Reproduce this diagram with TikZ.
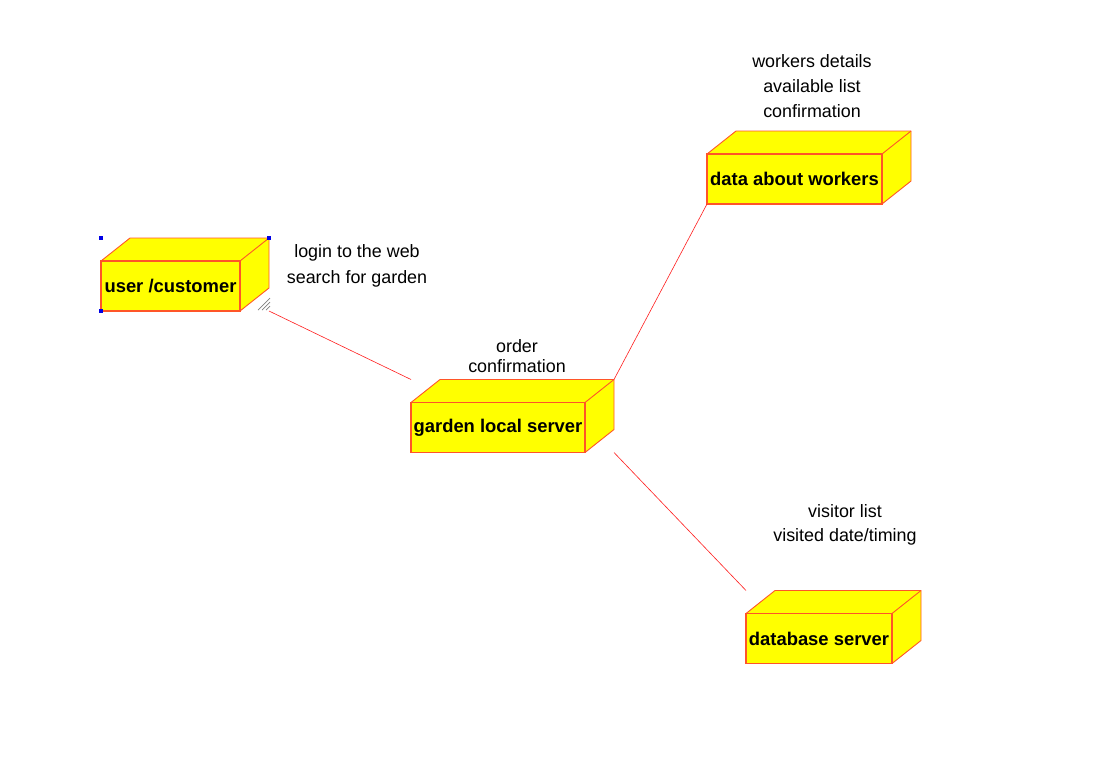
\documentclass[tikz,border=0pt]{standalone}
\usepackage{fontspec}
\setmainfont{Liberation Sans}
\usetikzlibrary{calc,positioning}

\definecolor{boxfill}{RGB}{255,255,0}
\definecolor{boxedge}{RGB}{255,85,40}
\definecolor{linkred}{RGB}{255,30,30}
\definecolor{handle}{RGB}{0,0,230}

\tikzset{
  nodebox/.style={draw=boxedge,line width=1.1pt,fill=boxfill,inner sep=0pt,outer sep=0pt,
    minimum height=50pt,font=\fontsize{18.4}{20}\selectfont\bfseries},
  boxside/.style={draw=boxedge,line width=0.9pt,fill=boxfill,line join=round},
  link/.style={draw=linkred,line width=0.6pt},
  note/.style={align=center,font=\fontsize{17.9}{25}\selectfont}
}

\begin{document}
\begin{tikzpicture}[x=1pt,y=-1pt]

% Rajzterület
\useasboundingbox[fill=white] (0,0) rectangle (1114,761);

% Csomópontok (elülső lap)
\node[nodebox,minimum width=139pt] (user) at (170.5,286) {user /customer};
\node[nodebox,minimum width=174pt] (garden) at (498,427.5) {garden local server};
\node[nodebox,minimum width=175pt] (workers) at (794.5,179) {data about workers};
\node[nodebox,minimum width=146pt] (db) at (819,638.5) {database server};

% Felső és oldalsó lap, sarokpontok
\foreach \nn in{user,garden,workers,db}{
\draw[boxside] (\nn.north west) -- ++(29,-23) -- ($(\nn.north east)+(29,-23)$) coordinate(\nn-tr)
  -- ($(\nn.south east)+(29,-23)$) -- (\nn.south east) -- (\nn.north east) -- cycle;
\draw[boxside,fill=none] (\nn.north east) -- (\nn-tr);
\draw[draw=boxedge,line width=1.1pt] (\nn.north west) rectangle (\nn.south east);
\coordinate (\nn-tl) at ($(\nn.north west)+(0,-23)$);
\coordinate (\nn-br) at ($(\nn.south east)+(29,0)$);
}

% Kapcsolatok
\draw[link] (user-br) -- (garden-tl);
\draw[link] (garden-tr) -- (workers.south west);
\draw[link] (garden-br) -- (db-tl);

% Feliratok
\node[note] (wnote) at (812,86) {workers details\\available list\\confirmation};
\node[note,font=\fontsize{17.9}{26}\selectfont] (unote) at (357,266) {login to the web\\search for garden};
\node[note,font=\fontsize{17.9}{20}\selectfont] (gnote) at (517,356) {order\\confirmation};
\node[note,font=\fontsize{17.9}{24}\selectfont] (dnote) at (845,525) {visitor list\\visited date/timing};

% Kijelölés jelei
\foreach \pp in{(user.north west|-user-tl),(user-tr),(user.south west)}{
\fill[handle] \pp ++(-2,-2) rectangle ++(4,4);
}
\foreach \dd in{3,7,11}{
\draw[gray,line width=0.7pt] ($(user-br)+(-\dd,-1)$) -- ($(user-br)+(1,-\dd-2)$);
}

\end{tikzpicture}
\end{document}
